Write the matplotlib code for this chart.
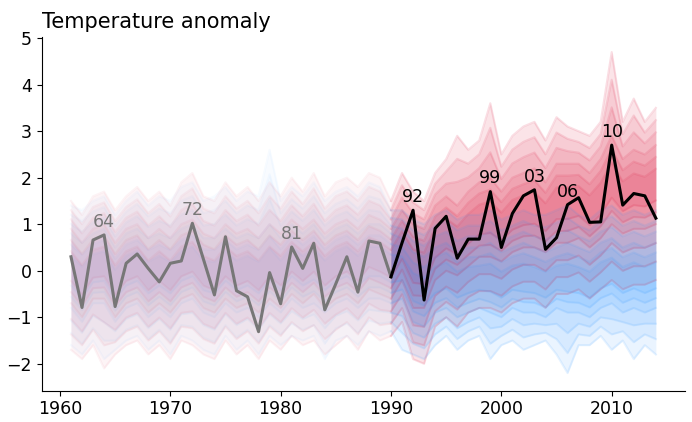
import numpy as np
import matplotlib
matplotlib.use("Agg")
import matplotlib.pyplot as plt

years = list(range(1961, 2015))

# observed series
gray_years = list(range(1961, 1991))
gray_vals = [0.30, -0.79, 0.66, 0.77, -0.77, 0.16, 0.36, 0.05, -0.24, 0.16,
             0.21, 1.02, 0.25, -0.52, 0.73, -0.43, -0.56, -1.31, -0.04, -0.71,
             0.51, 0.05, 0.59, -0.84, -0.28, 0.30, -0.46, 0.64, 0.59, -0.13]
black_years = list(range(1990, 2015))
black_vals = [-0.13, 0.60, 1.30, -0.63, 0.91, 1.17, 0.27, 0.68, 0.68, 1.70,
              0.50, 1.23, 1.61, 1.74, 0.46, 0.71, 1.42, 1.57, 1.04, 1.05,
              2.70, 1.41, 1.66, 1.61, 1.13]
label_years = [1964, 1972, 1981, 1992, 1999, 2003, 2006, 2010]
label_texts = ["64", "72", "81", "92", "99", "03", "06", "10"]

# ensemble cloud envelopes (warm = red members, cool = blue members)
red_max = [1.5, 1.2, 1.6, 1.7, 1.3, 1.6, 1.8, 1.5, 1.7, 1.4,
           1.9, 2.1, 1.6, 1.5, 1.9, 1.6, 1.8, 1.5, 1.9, 1.6,
           2.0, 1.7, 2.1, 1.6, 1.9, 2.0, 1.8, 2.1, 2.0, 1.5,
           2.1, 1.7, 1.5, 2.1, 2.4, 2.9, 2.6, 2.8, 3.6, 2.5,
           2.9, 3.1, 3.2, 2.8, 3.3, 3.1, 3.0, 2.9, 3.2, 4.7,
           3.2, 3.7, 3.2, 3.5]
red_hi = [0.9, 0.6, 0.9, 1.0, 0.6, 0.9, 1.0, 0.7, 0.9, 0.7,
          1.0, 1.1, 0.8, 0.7, 1.0, 0.8, 0.9, 0.7, 1.0, 0.8,
          1.1, 0.9, 1.1, 0.8, 1.0, 1.1, 0.9, 1.2, 1.1, 0.9,
          1.3, 1.0, 0.9, 1.4, 1.6, 1.4, 1.7, 1.9, 2.0, 1.7,
          2.0, 2.1, 2.2, 1.9, 2.3, 2.3, 2.3, 2.1, 2.4, 2.9,
          2.4, 2.6, 2.5, 2.7]
red_lo = [-0.7, -1.0, -0.6, -0.6, -1.0, -0.7, -0.6, -0.9, -0.7, -0.9,
          -0.6, -0.5, -0.8, -0.9, -0.6, -0.8, -0.7, -0.9, -0.6, -0.8,
          -0.5, -0.7, -0.5, -0.8, -0.6, -0.5, -0.7, -0.4, -0.5, -0.6,
          -0.2, -0.8, -0.8, -0.2, 0.0, -0.1, 0.1, 0.3, 0.3, 0.2,
          0.4, 0.5, 0.5, 0.4, 0.6, 0.6, 0.7, 0.5, 0.7, 1.0,
          0.8, 0.9, 0.9, 1.0]
red_min = [-1.7, -1.9, -1.6, -2.1, -1.8, -1.6, -1.5, -1.8, -1.6, -1.9,
           -1.5, -1.6, -1.8, -1.9, -1.5, -1.8, -1.6, -1.9, -1.5, -1.7,
           -1.4, -1.6, -1.5, -1.8, -1.6, -1.4, -1.7, -1.3, -1.5, -1.4,
           -1.1, -1.9, -2.0, -1.2, -1.0, -1.2, -0.9, -0.8, -0.8, -0.9,
           -0.7, -0.6, -0.6, -0.8, -0.5, -0.5, -0.4, -0.6, -0.4, -0.2,
           -0.4, -0.3, -0.3, -0.2]

blue_max = [1.4, 1.3, 1.5, 1.6, 1.2, 1.5, 1.7, 1.4, 1.6, 1.5,
            1.8, 1.9, 1.5, 1.6, 1.8, 1.5, 1.7, 1.6, 2.6, 1.5,
            1.8, 1.6, 1.9, 1.5, 1.7, 1.8, 1.6, 1.9, 1.8, 1.3,
            1.3, 1.1, 1.0, 1.2, 1.3, 1.1, 1.2, 1.2, 1.3, 1.1,
            1.2, 1.3, 1.2, 1.2, 1.3, 1.4, 1.2, 1.1, 1.3, 1.4,
            1.2, 1.3, 1.2, 1.3]
blue_hi = [0.8, 0.6, 0.8, 0.9, 0.5, 0.8, 0.9, 0.7, 0.8, 0.7,
           0.9, 1.0, 0.7, 0.7, 0.9, 0.7, 0.8, 0.7, 1.0, 0.7,
           1.0, 0.8, 1.0, 0.7, 0.9, 1.0, 0.8, 1.0, 1.0, 0.8,
           0.7, 0.4, 0.3, 0.5, 0.6, 0.4, 0.5, 0.5, 0.6, 0.4,
           0.5, 0.6, 0.5, 0.4, 0.5, 0.6, 0.5, 0.4, 0.6, 0.7,
           0.5, 0.6, 0.5, 0.6]
blue_lo = [-0.8, -1.1, -0.7, -0.7, -1.1, -0.8, -0.7, -1.0, -0.8, -1.0,
           -0.7, -0.6, -0.9, -1.0, -0.7, -0.9, -0.8, -1.0, -0.7, -0.9,
           -0.6, -0.8, -0.7, -0.9, -0.7, -0.6, -0.8, -0.6, -0.6, -0.7,
           -0.6, -1.1, -1.2, -0.9, -0.8, -1.0, -0.9, -0.8, -0.9, -1.0,
           -0.8, -0.9, -0.9, -1.0, -0.8, -0.9, -0.9, -1.0, -0.8, -0.7,
           -0.9, -0.8, -0.9, -0.8]
blue_min = [-1.6, -1.8, -1.5, -1.9, -1.7, -1.5, -1.4, -1.7, -1.5, -1.8,
            -1.4, -1.5, -1.7, -1.8, -1.4, -1.7, -1.5, -1.8, -1.4, -1.6,
            -1.4, -1.5, -1.4, -1.9, -1.5, -1.4, -1.6, -1.3, -1.4, -1.3,
            -1.7, -1.8, -1.9, -1.6, -1.4, -1.7, -1.5, -1.4, -1.9, -1.6,
            -1.5, -1.7, -1.6, -1.5, -1.8, -2.2, -1.6, -1.6, -1.4, -1.7,
            -1.5, -1.9, -1.6, -1.8]

RED = "#dc143c"
BLUE = "#1e90ff"

fig = plt.figure(figsize=(6.92, 4.22), dpi=100)
ax = fig.add_axes([0.0603, 0.074, 0.9297, 0.839])

yrs = np.array(years)
split = years.index(1990)


def cloud(vmin, lo, hi, vmax, color, a_pre, a_post):
    vmin, lo, hi, vmax = map(np.array, (vmin, lo, hi, vmax))
    mid = (lo + hi) / 2
    steps = [(vmin + (lo - vmin) * s, vmax + (hi - vmax) * s) for s in (0.0, 0.33, 0.66, 1.0)]
    steps += [(lo + (mid - lo) * s, hi + (mid - hi) * s) for s in (0.3, 0.6)]
    for b, t in steps:
        for sl, a in ((slice(0, split + 1), a_pre), (slice(split, None), a_post)):
            ax.fill_between(yrs[sl], b[sl], t[sl], color=color, alpha=a, lw=0)
            ax.plot(yrs[sl], b[sl], color=color, alpha=a * 1.2, lw=1.5)
            ax.plot(yrs[sl], t[sl], color=color, alpha=a * 1.2, lw=1.5)


cloud(red_min, red_lo, red_hi, red_max, RED, 0.042, 0.115)
cloud(blue_min, blue_lo, blue_hi, blue_max, BLUE, 0.028, 0.09)

ax.plot(gray_years, gray_vals, color="#777777", lw=2.2, zorder=5)
ax.plot(black_years, black_vals, color="black", lw=2.2, zorder=6)

all_years = gray_years + black_years[1:]
all_vals = gray_vals + black_vals[1:]
for yr, txt in zip(label_years, label_texts):
    v = all_vals[all_years.index(yr)]
    col = "#777777" if yr < 1990 else "black"
    ax.annotate(txt, (yr, v), xytext=(0, 3), textcoords="offset points",
                ha="center", va="bottom", fontsize=12.5, color=col, zorder=7)

ax.set_xlim(1958.35, 2016.65)
ax.set_ylim(-2.58, 5.03)
ax.set_xticks([1960, 1970, 1980, 1990, 2000, 2010])
ax.set_yticks([-2, -1, 0, 1, 2, 3, 4, 5])
ax.set_yticklabels(["\u22122", "\u22121", "0", "1", "2", "3", "4", "5"])
ax.tick_params(labelsize=12.5)
ax.spines["top"].set_visible(False)
ax.spines["right"].set_visible(False)
ax.set_title("Temperature anomaly", loc="left", fontsize=15)

fig.savefig("out.png", dpi=100)
